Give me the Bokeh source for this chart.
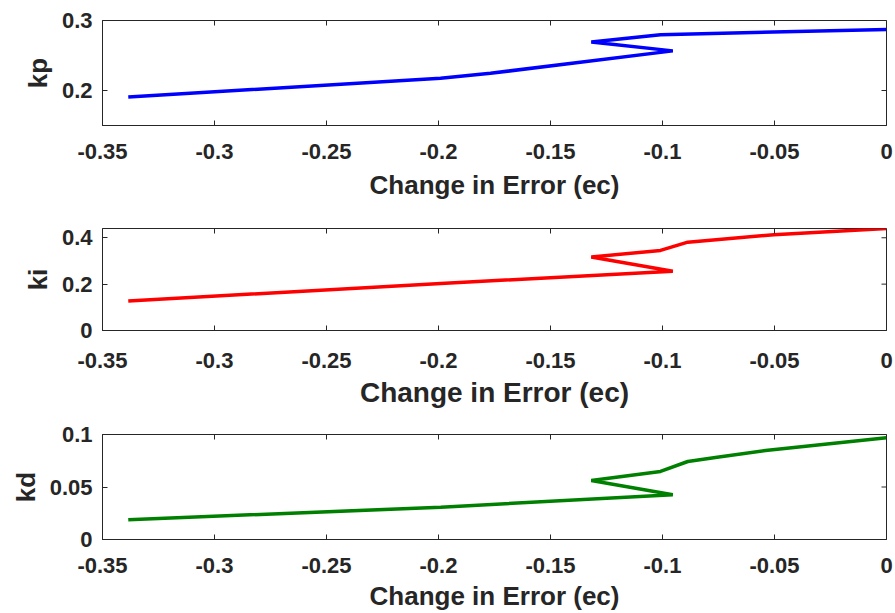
import math
from bokeh.plotting import figure
from bokeh.models import Range1d, FixedTicker, LinearAxis, ColumnDataSource
from bokeh.layouts import column
from bokeh.embed import file_html
from bokeh.resources import INLINE

# ---- data ----
kp_ec = [-0.3385, -0.1991, -0.1768, -0.0954, -0.1318, -0.1009, 0.0]
kp = [0.1907, 0.2175, 0.2246, 0.2566, 0.2693, 0.2797, 0.2873]

ki_ec = [-0.3385, -0.199, -0.0954, -0.1318, -0.1009, -0.0887, -0.0503, 0.0]
ki = [0.127, 0.203, 0.2557, 0.317, 0.3455, 0.381, 0.413, 0.44]

kd_ec = [-0.3385, -0.199, -0.0954, -0.1318, -0.1009, -0.0887, -0.0756, -0.054, 0.0]
kd = [0.0188, 0.0308, 0.0426, 0.0562, 0.0648, 0.0743, 0.0784, 0.0848, 0.097]

x_ticks = [-0.35, -0.3, -0.25, -0.2, -0.15, -0.1, -0.05, 0.0]
x_tick_labels = ["-0.35", "-0.3", "-0.25", "-0.2", "-0.15", "-0.1", "-0.05", "0"]

kp_ticks = [0.2, 0.3]
kp_tick_labels = ["0.2", "0.3"]
ki_ticks = [0.0, 0.2, 0.4]
ki_tick_labels = ["0", "0.2", "0.4"]
kd_ticks = [0.0, 0.05, 0.1]
kd_tick_labels = ["0", "0.05", "0.1"]

x_range_ec = (-0.35, 0.0)
kp_range = (0.15, 0.3)
ki_range = (0.0, 0.44)
kd_range = (0.0, 0.1)

x_label = "Change in Error (ec)"

FONT = "Liberation Sans"
AX = "#262626"


def panel(xs, ys, color, ylabel, yr, yt, ytl, height, top, bottom,
          xlab_size, tick_standoff, label_standoff):
    p = figure(width=895, height=height, output_backend="svg",
               toolbar_location=None, x_range=Range1d(*x_range_ec),
               y_range=Range1d(*yr), x_axis_location=None, y_axis_location=None,
               min_border_left=102, min_border_right=9,
               min_border_top=top, min_border_bottom=bottom)
    p.grid.visible = False
    p.outline_line_color = AX
    p.outline_line_width = 1
    p.background_fill_color = "white"
    p.border_fill_color = "white"

    src = ColumnDataSource(dict(x=xs, y=ys))
    p.line("x", "y", source=src, line_color=color, line_width=3.5)

    # mirrored inward ticks on the top and right edges (clipped to the frame)
    p.scatter(x=x_ticks, y=[yr[1]] * len(x_ticks), marker="dash", size=10,
              angle=math.pi / 2, line_color=AX, line_width=1)
    p.scatter(x=[x_range_ec[1]] * len(yt), y=yt, marker="dash", size=10,
              line_color=AX, line_width=1)

    xb = LinearAxis(ticker=FixedTicker(ticks=x_ticks),
                    major_label_overrides=dict(zip(x_ticks, x_tick_labels)),
                    axis_label=x_label)
    yl = LinearAxis(ticker=FixedTicker(ticks=yt),
                    major_label_overrides=dict(zip(yt, ytl)),
                    axis_label=ylabel)
    for a in (xb, yl):
        a.axis_line_color = AX
        a.axis_line_width = 1
        a.major_tick_line_color = AX
        a.major_tick_in = 5
        a.major_tick_out = 0
        a.minor_tick_line_color = None
        a.major_label_text_font = FONT
        a.major_label_text_font_style = "bold"
        a.major_label_text_color = AX
        a.major_label_text_font_size = "22px"
        a.axis_label_text_font = FONT
        a.axis_label_text_font_style = "bold"
        a.axis_label_text_color = AX
    xb.major_label_standoff = tick_standoff
    xb.axis_label_text_font_size = xlab_size
    xb.axis_label_standoff = label_standoff
    yl.major_label_standoff = 10
    yl.axis_label_text_font_size = "26px"
    yl.axis_label_standoff = 6
    p.add_layout(xb, "below")
    p.add_layout(yl, "left")
    return p


p1 = panel(kp_ec, kp, "#0000FF", "kp", kp_range, kp_ticks, kp_tick_labels,
           205, 20, 80, "26px", 18, 8)
p2 = panel(ki_ec, ki, "#FF0000", "ki", ki_range, ki_ticks, ki_tick_labels,
           205, 23, 79, "28px", 22, 6)
p3 = panel(kd_ec, kd, "#008000", "kd", kd_range, kd_ticks, kd_tick_labels,
           203, 24, 74, "26px", 18, 5)

layout = column(p1, p2, p3, spacing=0)
open("out.html", "w").write(file_html(layout, INLINE))
